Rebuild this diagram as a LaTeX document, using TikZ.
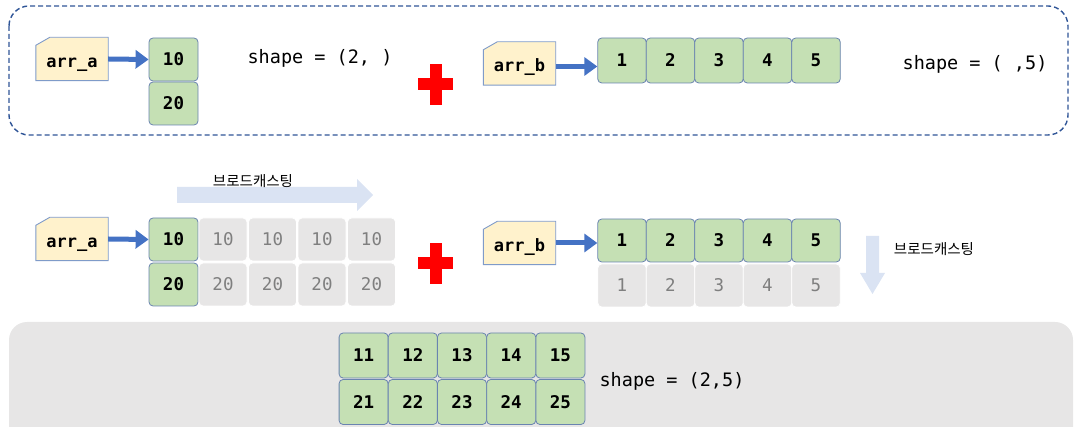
\documentclass[tikz,border=0pt]{standalone}
\usepackage{fontspec}
\setmonofont{DejaVu Sans Mono}
\newfontfamily\krfont{Noto Sans CJK KR}
\usetikzlibrary{arrows.meta,backgrounds}
\definecolor{dbox}{HTML}{2F5597}
\definecolor{cellfill}{HTML}{C5E0B4}
\definecolor{cellline}{HTML}{6A84B0}
\definecolor{grayfill}{HTML}{E7E6E6}
\definecolor{graytxt}{HTML}{7F7F7F}
\definecolor{yfill}{HTML}{FFF2CC}
\definecolor{yline}{HTML}{7F9BC9}
\definecolor{arrowblue}{HTML}{4472C4}
\definecolor{lblue}{HTML}{DAE3F3}
\newcommand\snipbox[1]{\filldraw[fill=yfill, draw=yline, line width=0.9pt] (#1.south west) -- ([yshift=-8pt]#1.north west) -- ([xshift=14pt]#1.north west) -- (#1.north east) -- (#1.south east) -- cycle;}
\begin{document}
\begin{tikzpicture}[x=1pt,y=-1pt,
  cellg/.style={draw=cellline, line width=0.8pt, fill=cellfill, rounded corners=4pt, minimum width=49pt, minimum height=43pt, inner sep=0pt, font=\ttfamily\bfseries\fontsize{17.5}{17.5}\selectfont, text=black},
  cellgr/.style={draw=white, line width=0.8pt, fill=grayfill, rounded corners=4pt, minimum width=48pt, minimum height=43pt, inner sep=0pt, font=\ttfamily\fontsize{17.5}{17.5}\selectfont, text=graytxt},
  varbox/.style={minimum width=72pt, minimum height=43pt, inner sep=0pt, text height=17pt, text depth=0pt, font=\ttfamily\bfseries\fontsize{17}{17}\selectfont},
  ptr/.style={line width=5pt, draw=arrowblue, -{Triangle[length=13pt,width=18pt]}},
  shapetxt/.style={font=\ttfamily\fontsize{18.5}{18.5}\selectfont, inner sep=0pt},
  krtxt/.style={font=\krfont\fontsize{14.5}{14.5}\selectfont, inner sep=0pt}]
\useasboundingbox (0,0) rectangle (1076,427);
\begin{scope}
\clip (0,0) rectangle (1076,427);
% frames
\begin{scope}[on background layer]
\fill[grayfill, rounded corners=18pt] (9,322) rectangle (1073,460);
\draw[dbox, line width=1.4pt, dash pattern=on 5pt off 3pt, rounded corners=20pt] (9,6) rectangle (1068,135);
\end{scope}

% ---------- top ----------
\node[varbox] (aa) at (72,59) {arr\_a};
\node[cellg] (a1) at (173.5,59.5) {10};
\node[cellg] (a2) at (173.5,103.5) {20};
\node[shapetxt] (sa) at (320,58) {shape = (2, )};
\draw[ptr] (aa.east) -- (a1.west);

\fill[red] (418,78) rectangle (453,90);
\fill[red] (430,64) rectangle (442,105);

\node[varbox] (ba) at (519.5,63.5) {arr\_b};
\foreach \i/\x in {1/622,2/670.5,3/719,4/767.5,5/816}
  \node[cellg, minimum width=48.5pt, minimum height=45pt] (b\i) at (\x,60.5) {\i};
\draw[ptr] ([yshift=-3pt]ba.east) -- ([yshift=-3pt]ba.east -| b1.west);
\node[shapetxt] (sb) at (975,64) {shape = ( ,5)};

% ---------- middle ----------
\fill[lblue] (177,187) -- (357,187) -- (357,179) -- (373,195) -- (357,211) -- (357,203) -- (177,203) -- cycle;
\node[krtxt] (k1) at (253,181) {브로드캐스팅};

\node[varbox] (ma) at (72,239) {arr\_a};
\node[cellg] (m1) at (173.5,239.5) {10};
\node[cellg] (m2) at (173.5,284.5) {20};
\foreach \i/\x in {1/223,2/272.5,3/322,4/371.5}{
  \node[cellgr] (mg1\i) at (\x,239.5) {10};
  \node[cellgr] (mg2\i) at (\x,284.5) {20};
}
\draw[ptr] (ma.east) -- (m1.west);

\fill[red] (418,257) rectangle (453,269);
\fill[red] (430,243) rectangle (442,284);

\node[varbox] (mb) at (519.5,243) {arr\_b};
\foreach \i/\x in {1/622,2/670.5,3/719,4/767.5,5/816}{
  \node[cellg, minimum width=48.5pt] (n\i) at (\x,240.5) {\i};
  \node[cellgr, minimum width=48.5pt] (ng\i) at (\x,285.5) {\i};
}
\draw[ptr] (mb.east) -- (mb.east -| n1.west);

\fill[lblue] (866,236) -- (879,236) -- (879,273) -- (885,273) -- (872.5,294) -- (860,273) -- (866,273) -- cycle;
\node[krtxt] (k2) at (934,249) {브로드캐스팅};

% ---------- bottom ----------
\foreach \i/\x in {1/363.6,2/412.8,3/462,4/511.2,5/560.4}{
  \node[cellg, minimum width=49pt, minimum height=45pt] (r1\i) at (\x,355.5) {1\i};
  \node[cellg, minimum width=49pt, minimum height=45pt] (r2\i) at (\x,402) {2\i};
}
\node[shapetxt] (sc) at (672,381) {shape = (2,5)};

\begin{scope}[on background layer]
\snipbox{aa}
\snipbox{ba}
\snipbox{ma}
\snipbox{mb}
\end{scope}
\end{scope}
\end{tikzpicture}
\end{document}
